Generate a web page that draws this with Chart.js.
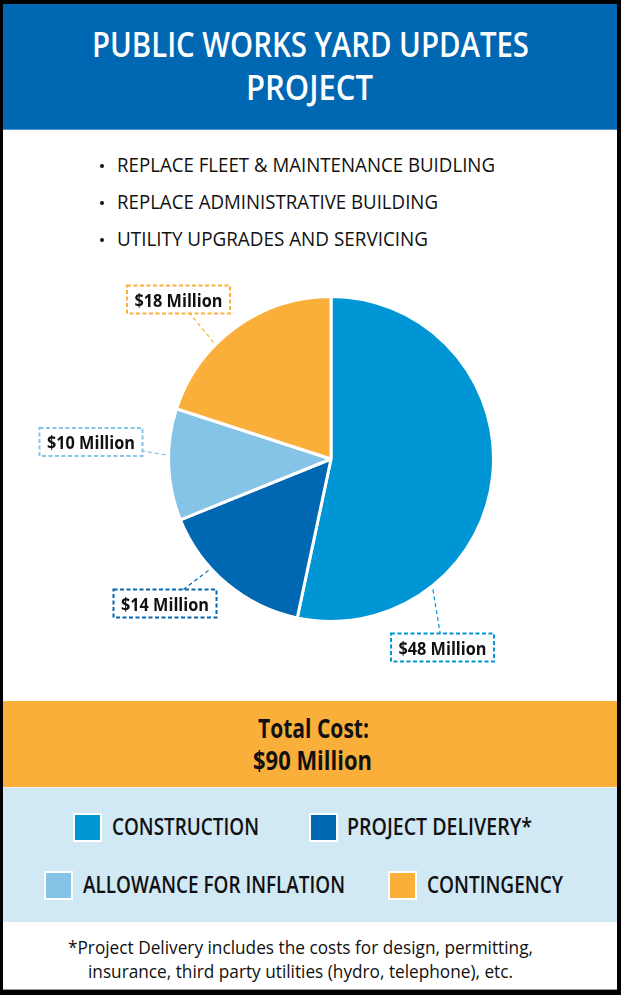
<!DOCTYPE html>
<html><head><meta charset="utf-8">
<script src="https://cdn.jsdelivr.net/npm/chart.js@4.4.1/dist/chart.umd.min.js"></script>
<style>
html,body{margin:0;padding:0;width:621px;height:995px;overflow:hidden;background:#000;}
#frame{position:absolute;left:0;top:0;width:621px;height:995px;background:#000;}
.band{position:absolute;left:3px;width:614px;}
.t{position:absolute;white-space:nowrap;line-height:1;font-family:"Open Sans",sans-serif;transform-origin:0 0;color:#111;}
.dot{position:absolute;width:4px;height:4px;border-radius:50%;background:#111;}
.sw{position:absolute;width:25px;height:25px;border:2px solid #fff;}
#pie{position:absolute;left:0;top:250px;}
</style></head><body>
<div id="frame">
 <div class="band" style="top:4px;height:125px;background:#0067B2"></div>
 <div class="band" style="top:129px;height:1px;background:#4F95D2"></div>
 <div class="band" style="top:130px;height:571px;background:#fff"></div>
 <div class="band" style="top:701px;height:86px;background:#FBAF3B"></div>
 <div class="band" style="top:787px;height:1px;background:#F6F6F6"></div>
 <div class="band" style="top:788px;height:134px;background:#D1E8F5"></div>
 <div class="band" style="top:922px;height:67px;background:#fff"></div>
 <div class="band" style="top:989px;height:1px;background:#9a9a9a"></div>
 <div id="texts"></div>
 <canvas id="pie" width="621" height="450"></canvas>
</div>
<script>
// ---------- data ----------
const categories = ['CONSTRUCTION', 'PROJECT DELIVERY*', 'ALLOWANCE FOR INFLATION', 'CONTINGENCY'];
const costMillions = [48, 14, 10, 18];
const bullets = ['REPLACE FLEET & MAINTENANCE BUIDLING', 'REPLACE ADMINISTRATIVE BUILDING', 'UTILITY UPGRADES AND SERVICING'];
const titleLines = ['PUBLIC WORKS YARD UPDATES', 'PROJECT'];
const footnoteLines = ['*Project Delivery includes the costs for design, permitting,', 'insurance, third party utilities (hydro, telephone), etc.'];
const valueLabels = costMillions.map(v => '$' + v + ' Million');
const totalLabel = '$' + costMillions.reduce((a, b) => a + b, 0) + ' Million';

// ---------- styles / layout ----------
const sliceColors = ['#0096D6', '#0067B2', '#85C4E6', '#FBAF3B'];
const calloutLayout = [
  {angle: 142, dx: 111.5, dy: 188.5},
  {angle: 227.7, dx: -166, dy: 144.5},
  {angle: 271.4, dx: -240, dy: -17},
  {angle: 314.8, dx: -152.5, dy: -159.5}
];
const legendLayout = [
  {sx: 73, tx: 112, w: 147, row: 0},
  {sx: 309, tx: 347, w: 185, row: 0},
  {sx: 44, tx: 83, w: 262, row: 1},
  {sx: 388, tx: 427, w: 136, row: 1}
];

const holder = document.getElementById('texts');
function addText(txt, o) {
  const el = document.createElement('div');
  el.className = 't';
  el.textContent = txt;
  el.style.fontSize = o.fs + 'px';
  el.style.fontWeight = o.fw || 400;
  el.style.top = o.top + 'px';
  if (o.color) el.style.color = o.color;
  holder.appendChild(el);
  const nat = el.getBoundingClientRect().width;
  el.style.transform = 'scaleX(' + (o.w / nat) + ')';
  el.style.left = (o.cx !== undefined ? o.cx - o.w / 2 : o.left) + 'px';
  return el;
}
// title
addText(titleLines[0], {fs: 34, fw: 600, top: 27, cx: 310.5, w: 437, color: '#fff'});
addText(titleLines[1], {fs: 34, fw: 600, top: 70, cx: 309.5, w: 127, color: '#fff'});
// bullets
const bulletW = [378, 321, 311];
bullets.forEach((b, i) => {
  addText(b, {fs: 20, fw: 400, top: 155.2 + 37 * i, left: 117, w: bulletW[i]});
  const d = document.createElement('div');
  d.className = 'dot';
  d.style.left = '100px';
  d.style.top = (164 + 37 * i) + 'px';
  holder.appendChild(d);
});
// total
addText('Total Cost:', {fs: 27, fw: 700, top: 714, cx: 313, w: 111});
addText(totalLabel, {fs: 27, fw: 700, top: 746, cx: 312.5, w: 119});
// legend
categories.forEach((c, i) => {
  const L = legendLayout[i];
  const s = document.createElement('div');
  s.className = 'sw';
  s.style.left = L.sx + 'px';
  s.style.top = (813 + 58 * L.row) + 'px';
  s.style.background = sliceColors[i];
  holder.appendChild(s);
  addText(c, {fs: 23, fw: 600, top: 814.6 + 58 * L.row, left: L.tx, w: L.w});
});
// footnote
addText(footnoteLines[0], {fs: 19, fw: 400, top: 938, cx: 300.5, w: 465});
addText(footnoteLines[1], {fs: 19, fw: 400, top: 962, cx: 300.5, w: 425});

// ---------- callout plugin ----------
const calloutPlugin = {
  id: 'callouts',
  afterDatasetsDraw(chart) {
    const ctx = chart.ctx;
    const meta = chart.getDatasetMeta(0);
    ctx.save();
    ctx.font = '700 18px "Open Sans"';
    const sx = 88 / ctx.measureText('$18 Million').width;
    meta.data.forEach((arc, i) => {
      const p = arc.getProps(['x', 'y', 'outerRadius'], true);
      const L = calloutLayout[i];
      const a = L.angle * Math.PI / 180;
      const r = p.outerRadius + 3;
      const px = p.x + r * Math.sin(a), py = p.y - r * Math.cos(a);
      const bx = p.x + L.dx, by = p.y + L.dy;
      const tw = ctx.measureText(valueLabels[i]).width * sx;
      const hw = tw / 2 + 7.5, hh = 14;
      const vx = px - bx, vy = py - by;
      const s = Math.min(hw / Math.max(Math.abs(vx), 1e-6), hh / Math.max(Math.abs(vy), 1e-6));
      const ex = bx + vx * s, ey = by + vy * s;
      ctx.strokeStyle = sliceColors[i];
      ctx.lineWidth = 1.2;
      ctx.setLineDash([4, 3]);
      ctx.beginPath(); ctx.moveTo(px, py); ctx.lineTo(ex, ey); ctx.stroke();
      ctx.lineWidth = 2;
      ctx.setLineDash([4, 2.5]);
      ctx.strokeRect(bx - hw, by - hh, hw * 2, hh * 2);
      ctx.setLineDash([]);
      ctx.fillStyle = '#111';
      ctx.textAlign = 'center';
      ctx.textBaseline = 'alphabetic';
      ctx.save();
      ctx.translate(bx, by + 7);
      ctx.scale(sx, 1);
      ctx.fillText(valueLabels[i], 0, 0);
      ctx.restore();
    });
    ctx.restore();
  }
};

new Chart(document.getElementById('pie'), {
  type: 'pie',
  data: {
    labels: categories,
    datasets: [{
      data: costMillions,
      backgroundColor: sliceColors,
      borderColor: '#ffffff',
      borderWidth: 3,
      hoverOffset: 0
    }]
  },
  options: {
    responsive: false,
    animation: false,
    radius: 162.5,
    layout: {padding: {left: 41, right: 0, top: 0, bottom: 32}},
    plugins: {legend: {display: false}, tooltip: {enabled: false}}
  },
  plugins: [calloutPlugin]
});
</script>
</body></html>
